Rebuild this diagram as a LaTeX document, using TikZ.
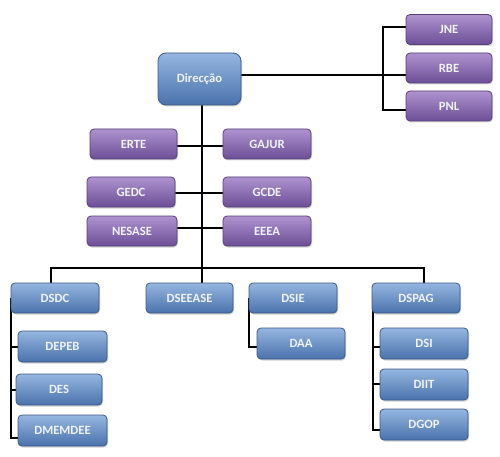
\documentclass[tikz,border=0pt]{standalone}
\usepackage{fontspec}
\setmainfont{Carlito}
\usetikzlibrary{shadows,backgrounds}
\definecolor{btop}{HTML}{95B6E0}
\definecolor{bbot}{HTML}{4A72AC}
\definecolor{bdraw}{HTML}{3B5A88}
\definecolor{ptop}{HTML}{AE93CF}
\definecolor{pbot}{HTML}{6C4E96}
\definecolor{pdraw}{HTML}{56407A}
\definecolor{txt}{HTML}{F0F3FA}
\tikzset{
  box/.style={rounded corners=4pt, line width=0.8pt, inner sep=0pt,
    minimum height=30pt, text=txt, font=\fontsize{12.6}{12.6}\selectfont\bfseries,
    drop shadow={opacity=0.35, shadow xshift=1pt, shadow yshift=-1.5pt}},
  bluebox/.style={box, draw=bdraw, top color=btop, bottom color=bbot},
  purplebox/.style={box, draw=pdraw, top color=ptop, bottom color=pbot},
  link/.style={line width=2.4pt, black}
}
\begin{document}
\begin{tikzpicture}[x=1pt,y=-1pt]
\useasboundingbox (0,0) rectangle (500,457);
% top
\node[bluebox, minimum width=83pt, minimum height=52pt, rounded corners=8pt] (dir) at (199.5,79) {Direcção};
\node[purplebox, minimum width=86pt] (jne) at (449,29.5) {JNE};
\node[purplebox, minimum width=86pt] (rbe) at (449,68) {RBE};
\node[purplebox, minimum width=86pt] (pnl) at (449,106) {PNL};
% middle
\node[purplebox, minimum width=87pt] (erte) at (133.5,144) {ERTE};
\node[purplebox, minimum width=88pt] (gajur) at (267,144) {GAJUR};
\node[purplebox, minimum width=88pt] (gedc) at (131,192) {GEDC};
\node[purplebox, minimum width=88pt] (gcde) at (267,192) {GCDE};
\node[purplebox, minimum width=90pt] (nesase) at (132,231) {NESASE};
\node[purplebox, minimum width=88pt] (eeea) at (267,231) {EEEA};
% bottom row
\node[bluebox, minimum width=88pt] (dsdc) at (55,298) {DSDC};
\node[bluebox, minimum width=87pt] (dseease) at (189.5,298) {DSEEASE};
\node[bluebox, minimum width=88pt] (dsie) at (293,298) {DSIE};
\node[bluebox, minimum width=88pt] (dspag) at (416,298) {DSPAG};
\node[bluebox, minimum width=89pt, minimum height=31pt] (depeb) at (62.5,346.5) {DEPEB};
\node[bluebox, minimum width=86pt, minimum height=31pt] (des) at (59,389.5) {DES};
\node[bluebox, minimum width=89pt, minimum height=31pt] (dmemdee) at (62.5,430.5) {DMEMDEE};
\node[bluebox, minimum width=88pt, minimum height=31pt] (daa) at (301,343.5) {DAA};
\node[bluebox, minimum width=88pt, minimum height=31pt] (dsi) at (424,343.5) {DSI};
\node[bluebox, minimum width=88pt, minimum height=31pt] (diit) at (424,384.5) {DIIT};
\node[bluebox, minimum width=88pt, minimum height=31pt] (dgop) at (424,424.5) {DGOP};
% coordinates
\coordinate (rj) at (383,75);
\coordinate (rtop) at (383,27);
\coordinate (rbot) at (383,110);
\coordinate (t1) at (202,146);
\coordinate (t2) at (202,193);
\coordinate (t3) at (202,228);
\coordinate (busl) at (51,268);
\coordinate (busc) at (202,268);
\coordinate (busr) at (424,268);
\coordinate (s1) at (11,347);
\coordinate (s2) at (11,390);
\coordinate (s3) at (11,438);
\coordinate (a1) at (249,347);
\coordinate (p1) at (373,347);
\coordinate (p2) at (373,384);
\coordinate (p3) at (373,430);
\begin{scope}[on background layer]
\fill[white] (0,0) rectangle (500,457);
\draw[link] (dir.east |- rj) -- (rbe.west |- rj);
\draw[link] (jne.west |- rtop) -- (rtop) -- (rbot) -- (pnl.west |- rbot);
\draw[link] (dir.south -| busc) -- (busc) -- (dseease.north -| busc);
\draw[link] (erte.east |- t1) -- (gajur.west |- t1);
\draw[link] (gedc.east |- t2) -- (gcde.west |- t2);
\draw[link] (nesase.east |- t3) -- (eeea.west |- t3);
\draw[link] (dsdc.north -| busl) -- (busl) -- (busr) -- (dspag.north -| busr);
\draw[link] (dsdc.center -| s1) -- (s3) -- (dmemdee.west |- s3);
\draw[link] (s1) -- (depeb.west |- s1);
\draw[link] (s2) -- (des.west |- s2);
\draw[link] (dsie.center -| a1) -- (a1) -- (daa.west |- a1);
\draw[link] (dspag.center -| p1) -- (p3) -- (dgop.west |- p3);
\draw[link] (p1) -- (dsi.west |- p1);
\draw[link] (p2) -- (diit.west |- p2);
\end{scope}
\end{tikzpicture}
\end{document}
